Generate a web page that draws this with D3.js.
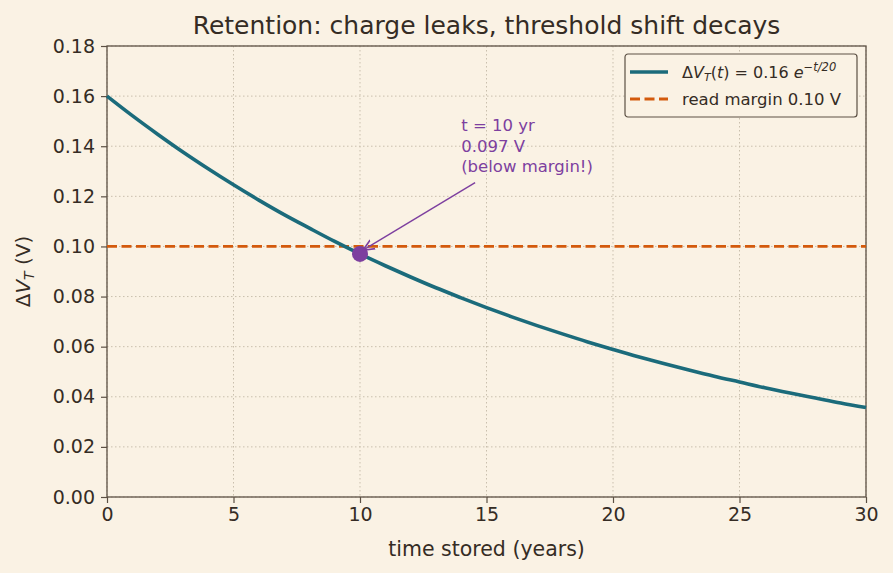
<!DOCTYPE html>
<html>
<head>
<meta charset="utf-8">
<script src="https://d3js.org/d3.v7.min.js"></script>
<style>
  body { margin: 0; background: #faf2e4; }
  svg { font-family: "DejaVu Sans", sans-serif; }
</style>
</head>
<body>
<svg id="chart" width="893" height="573"></svg>
<script>
// values
var years = [0,1,2,3,4,5,6,7,8,9,10,11,12,13,14,15,16,17,18,19,20,21,22,23,24,25,26,27,28,29,30]
var deltaVt = [0.1600,0.1522,0.1448,0.1377,0.1310,0.1246,0.1185,0.1127,0.1073,0.1020,0.0970,0.0923,0.0878,0.0835,0.0795,0.0756,0.0719,0.0684,0.0651,0.0619,0.0589,0.0560,0.0533,0.0507,0.0482,0.0459,0.0436,0.0415,0.0395,0.0375,0.0357]
var readMargin = 0.10
var markPoint = { t: 10, v: 0.097 }
var xTicks = [0,5,10,15,20,25,30]
var yTicks = [0,0.02,0.04,0.06,0.08,0.10,0.12,0.14,0.16,0.18]
var noteLines = ["t = 10 yr", "0.097 V", "(below margin!)"]

var margin = { top: 46, right: 27, bottom: 76, left: 107 }
var width = 893 - margin.left - margin.right
var height = 573 - margin.top - margin.bottom

var ink = "#352c24", spine = "#5c5044"
var teal = "#1b6b7b", orange = "#d35a0c", purple = "#7d3f9f"

var svg = d3.select("#chart")
svg.append("rect").attr("width", 893).attr("height", 573).attr("fill", "#faf2e4")

var g = svg.append("g").attr("transform", "translate(" + margin.left + "," + margin.top + ")")

var x = d3.scaleLinear().domain([0, 30]).range([0, width])
var y = d3.scaleLinear().domain([0, 0.18]).range([height, 0])

// grid
g.selectAll(".gx").data(xTicks).enter().append("line")
  .attr("x1", d => x(d)).attr("x2", d => x(d)).attr("y1", 0).attr("y2", height)
  .attr("stroke", "#c9bfad").attr("stroke-width", 1).attr("stroke-dasharray", "1.5,2.5")
g.selectAll(".gy").data(yTicks).enter().append("line")
  .attr("x1", 0).attr("x2", width).attr("y1", d => y(d)).attr("y2", d => y(d))
  .attr("stroke", "#c9bfad").attr("stroke-width", 1).attr("stroke-dasharray", "1.5,2.5")

// axes
var xAxis = g.append("g").attr("transform", "translate(0," + height + ")")
  .call(d3.axisBottom(x).tickValues(xTicks).tickSize(6).tickPadding(5).tickFormat(d3.format("d")))
var yAxis = g.append("g")
  .call(d3.axisLeft(y).tickValues(yTicks).tickSize(6).tickPadding(6).tickFormat(d3.format(".2f")))
;[xAxis, yAxis].forEach(function(a) {
  a.select(".domain").remove()
  a.selectAll("line").attr("stroke", spine).attr("stroke-width", 1.2)
  a.selectAll("text").attr("fill", ink).style("font-size", "19px").style("font-family", "DejaVu Sans")
})

// spines
g.append("rect").attr("width", width).attr("height", height)
  .attr("fill", "none").attr("stroke", spine).attr("stroke-width", 1.3)

// margin line
g.append("line").attr("x1", 0).attr("x2", width).attr("y1", y(readMargin)).attr("y2", y(readMargin))
  .attr("stroke", orange).attr("stroke-width", 2.8).attr("stroke-dasharray", "10,4.5")

// curve
var line = d3.line().curve(d3.curveCatmullRom).x((d, i) => x(years[i])).y(d => y(d))
g.append("path").datum(deltaVt).attr("d", line)
  .attr("fill", "none").attr("stroke", teal).attr("stroke-width", 3.6)

// marked point
g.append("circle").attr("cx", x(markPoint.t)).attr("cy", y(markPoint.v)).attr("r", 8).attr("fill", purple)

// annotation
var tx = x(14), ty = y(0.146)
var note = g.append("text").attr("fill", purple).style("font-size", "16.5px")
noteLines.forEach(function(s, i) {
  note.append("tspan").attr("x", tx).attr("y", ty + i * 20.5).text(s)
})
svg.append("defs").append("marker").attr("id", "arr").attr("viewBox", "0 0 10 10")
  .attr("refX", 9).attr("refY", 5).attr("markerWidth", 9).attr("markerHeight", 9).attr("orient", "auto")
  .append("path").attr("d", "M0,1 L9,5 L0,9").attr("fill", "none").attr("stroke", purple).attr("stroke-width", 1.3)
g.append("line").attr("x1", x(14.55)).attr("y1", y(0.1255))
  .attr("x2", x(10.12)).attr("y2", y(0.0985))
  .attr("stroke", purple).attr("stroke-width", 1.4).attr("marker-end", "url(#arr)")

// title and labels
svg.append("text").attr("x", margin.left + width / 2).attr("y", 34).attr("text-anchor", "middle")
  .attr("fill", ink).style("font-size", "25px").text("Retention: charge leaks, threshold shift decays")
svg.append("text").attr("x", margin.left + width / 2).attr("y", 556).attr("text-anchor", "middle")
  .attr("fill", ink).style("font-size", "20.5px").text("time stored (years)")
var yl = svg.append("text").attr("transform", "translate(30," + (margin.top + height / 2) + ") rotate(-90)")
  .attr("text-anchor", "middle").attr("fill", ink).style("font-size", "20px")
yl.append("tspan").text("Δ")
yl.append("tspan").style("font-style", "italic").text("V")
yl.append("tspan").style("font-style", "italic").style("font-size", "14px").attr("dy", 4).text("T")
yl.append("tspan").attr("dy", -4).text(" (V)")

// legend
var lg = svg.append("g").attr("transform", "translate(625,54)")
lg.append("rect").attr("width", 232).attr("height", 63).attr("rx", 3)
  .attr("fill", "#faf2e4").attr("stroke", spine).attr("stroke-width", 1.2)
lg.append("line").attr("x1", 5).attr("x2", 43).attr("y1", 18).attr("y2", 18)
  .attr("stroke", teal).attr("stroke-width", 3.6)
lg.append("line").attr("x1", 5).attr("x2", 43).attr("y1", 45).attr("y2", 45)
  .attr("stroke", orange).attr("stroke-width", 2.8).attr("stroke-dasharray", "10,4.5")
var l1 = lg.append("text").attr("x", 57).attr("y", 24).attr("fill", ink).style("font-size", "16px")
l1.append("tspan").text("Δ")
l1.append("tspan").style("font-style", "italic").text("V")
l1.append("tspan").style("font-style", "italic").style("font-size", "11px").attr("dy", 3).text("T")
l1.append("tspan").attr("dy", -3).text("(")
l1.append("tspan").style("font-style", "italic").text("t")
l1.append("tspan").text(") = 0.16 ")
l1.append("tspan").style("font-style", "italic").text("e")
l1.append("tspan").style("font-size", "11.5px").style("font-style", "italic").attr("dy", -7).text("−t/20")
lg.append("text").attr("x", 57).attr("y", 51).attr("fill", ink).style("font-size", "16.5px").text("read margin 0.10 V")
</script>
</body>
</html>
